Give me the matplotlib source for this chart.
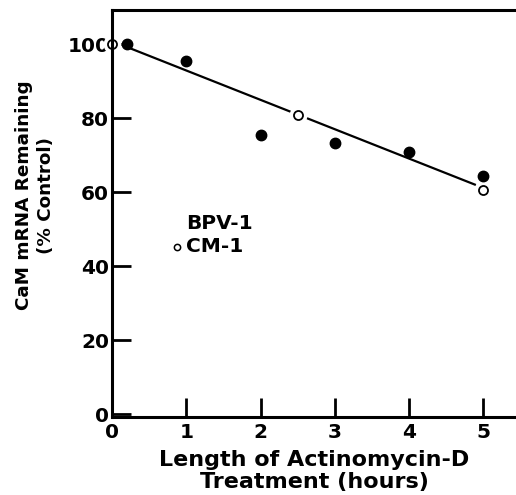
import matplotlib
matplotlib.use('Agg')
import matplotlib.pyplot as plt

# BPV-1 (filled) and CM-1 (open) CaM mRNA remaining, % of control
bpv_hours = [0.2, 1, 2, 3, 4, 5]
bpv_pct = [100, 95.5, 75.5, 73.3, 70.7, 64.3]
cm_hours = [0, 2.5, 5]
cm_pct = [100, 80.8, 60.5]

# regression line end points
fit_hours = [0.15, 4.9]
fit_pct = [99.6, 61.9]

x_ticks = [0, 1, 2, 3, 4, 5]
y_ticks = [0, 20, 40, 60, 80, 100]

plt.rcParams['font.family'] = 'DejaVu Sans'
plt.rcParams['font.weight'] = 'bold'

fig = plt.figure(figsize=(5.16, 4.95), dpi=100)
ax = fig.add_axes([0.217, 0.1576, 0.783, 0.8222])

ax.plot(fit_hours, fit_pct, color='black', lw=1.6, zorder=2, solid_capstyle='butt')

# white halo so the line breaks around the open circles
ax.plot(cm_hours, cm_pct, 'o', ms=13, color='white', mec='none', zorder=2.1, clip_on=False)
ax.plot(cm_hours, cm_pct, 'o', ms=6.5, mfc='white', mec='black', mew=1.3, zorder=2.2, clip_on=False)
ax.plot(bpv_hours, bpv_pct, 'o', ms=7.5, color='black', zorder=3, clip_on=False)

# legend written by hand like the original
ax.text(1.0, 51.4, 'BPV-1', fontsize=14.5, fontweight='bold', va='center', ha='left')
ax.plot([0.87], [45.2], 'o', ms=4.5, mfc='white', mec='black', mew=1.1)
ax.text(1.0, 45.2, 'CM-1', fontsize=14.5, fontweight='bold', va='center', ha='left')

ax.set_xlim(0, 5.44)
ax.set_ylim(-0.8, 109.2)
ax.set_xticks(x_ticks)
ax.set_yticks(y_ticks)
ax.set_xticklabels([str(t) for t in x_ticks])
ax.set_yticklabels([str(t) for t in y_ticks])

for side in ['left', 'top', 'bottom']:
    ax.spines[side].set_linewidth(2.2)
ax.spines['right'].set_visible(False)

ax.tick_params(axis='both', direction='in', length=14, width=2, labelsize=14.5)
ax.tick_params(axis='x', pad=4)
ax.tick_params(axis='y', pad=2)

ax.set_xlabel('Length of Actinomycin-D\nTreatment (hours)', fontsize=16,
              fontweight='bold', linespacing=1.15, labelpad=6)
ax.set_ylabel('CaM mRNA Remaining\n(% Control)', fontsize=13.2,
              fontweight='bold', linespacing=1.35)
ax.yaxis.set_label_coords(-0.14, 0.545)

fig.savefig('out.png', dpi=100)
